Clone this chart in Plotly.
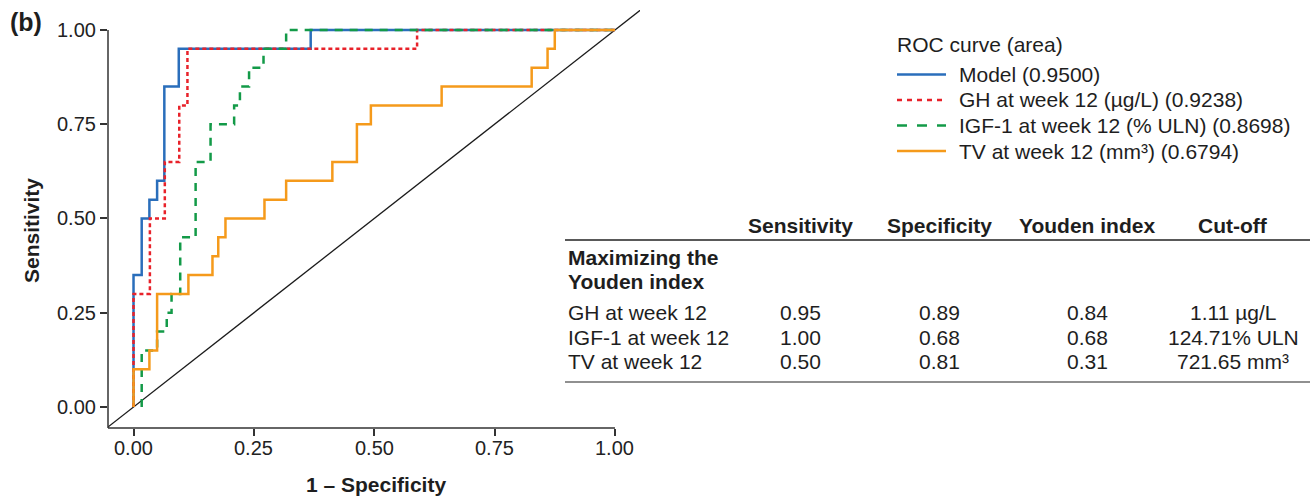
import plotly.graph_objects as go

# ---------------- data ----------------
fpr_model = [0, 0, 0.017, 0.017, 0.033, 0.033, 0.049, 0.049, 0.064, 0.064, 0.094, 0.094, 0.368, 0.368, 1.0]
tpr_model = [0, 0.35, 0.35, 0.50, 0.50, 0.55, 0.55, 0.60, 0.60, 0.85, 0.85, 0.95, 0.95, 1.0, 1.0]

fpr_gh = [0, 0, 0.034, 0.034, 0.065, 0.065, 0.095, 0.095, 0.112, 0.112, 0.589, 0.589, 1.0]
tpr_gh = [0, 0.30, 0.30, 0.50, 0.50, 0.65, 0.65, 0.80, 0.80, 0.95, 0.95, 1.0, 1.0]

fpr_igf = [0.017, 0.017, 0.049, 0.049, 0.069, 0.069, 0.079, 0.079, 0.097, 0.097, 0.129, 0.129,
           0.160, 0.160, 0.209, 0.209, 0.221, 0.221, 0.240, 0.240, 0.270, 0.270, 0.317, 0.317, 1.0]
tpr_igf = [0, 0.15, 0.15, 0.20, 0.20, 0.25, 0.25, 0.30, 0.30, 0.45, 0.45, 0.65,
           0.65, 0.75, 0.75, 0.80, 0.80, 0.85, 0.85, 0.90, 0.90, 0.95, 0.95, 1.0, 1.0]

fpr_tv = [0, 0, 0.033, 0.033, 0.049, 0.049, 0.114, 0.114, 0.164, 0.164, 0.176, 0.176, 0.191, 0.191,
          0.272, 0.272, 0.317, 0.317, 0.413, 0.413, 0.464, 0.464, 0.493, 0.493, 0.640, 0.640,
          0.827, 0.827, 0.860, 0.860, 0.875, 0.875, 1.0]
tpr_tv = [0, 0.10, 0.10, 0.15, 0.15, 0.30, 0.30, 0.35, 0.35, 0.40, 0.40, 0.45, 0.45, 0.50,
          0.50, 0.55, 0.55, 0.60, 0.60, 0.65, 0.65, 0.75, 0.75, 0.80, 0.80, 0.85,
          0.85, 0.90, 0.90, 0.95, 0.95, 1.0, 1.0]

series_names = ["Model (0.9500)", "GH at week 12 (µg/L) (0.9238)",
                "IGF-1 at week 12 (% ULN) (0.8698)", "TV at week 12 (mm³) (0.6794)"]
legend_title = "ROC curve (area)"

tick_vals = [0, 0.25, 0.5, 0.75, 1.0]
tick_text = ["0.00", "0.25", "0.50", "0.75", "1.00"]

table_header = ["Sensitivity", "Specificity", "Youden index", "Cut-off"]
table_group = ["Maximizing the", "Youden index"]
table_rows = ["GH at week 12", "IGF-1 at week 12", "TV at week 12"]
table_sens = ["0.95", "1.00", "0.50"]
table_spec = ["0.89", "0.68", "0.81"]
table_youden = ["0.84", "0.68", "0.31"]
table_cutoff = ["1.11 µg/L", "124.71% ULN", "721.65 mm³"]

# ---------------- styling ----------------
W, H = 1311, 500
FONT = "Liberation Sans, Arial, Helvetica, sans-serif"
TXT = "#1e1e1e"
colors = ["#2a6ebb", "#e8222a", "#139a48", "#f59a1b"]
dashes = ["solid", "4px,3px", "8px,7px", "solid"]
legend_dashes = ["solid", "5px,5px", "10px,10px", "solid"]
FS = 21

X0, X1 = 108, 640      # plot area, pixels
YB, YT = 428, 10
XR = [-0.053, 1.052]
YR = [-0.0557, 1.053]


def px(x):
    return x / W


def py(y):
    return 1 - y / H


def dx(v):  # data x -> paper
    return (X0 + (v - XR[0]) / (XR[1] - XR[0]) * (X1 - X0)) / W


def dy(v):  # data y -> paper
    return 1 - (YB - (v - YR[0]) / (YR[1] - YR[0]) * (YB - YT)) / H


fig = go.Figure()

# chance diagonal
fig.add_trace(go.Scatter(x=[-0.1, 1.2], y=[-0.1, 1.2], mode="lines",
                         line=dict(color="#1a1a1a", width=1.3),
                         showlegend=False, hoverinfo="skip"))

curves = [(fpr_model, tpr_model), (fpr_gh, tpr_gh), (fpr_igf, tpr_igf), (fpr_tv, tpr_tv)]
for (fx_, fy_), name, c, d in zip(curves, series_names, colors, dashes):
    fig.add_trace(go.Scatter(x=fx_, y=fy_, mode="lines", name=name,
                             line=dict(color=c, width=2.5, dash=d),
                             showlegend=False))

shapes = []
# axis lines (end at 1.00)
shapes.append(dict(type="line", xref="paper", yref="paper",
                   x0=px(X0), x1=dx(1.0), y0=py(YB), y1=py(YB),
                   line=dict(color="#333333", width=1.5)))
shapes.append(dict(type="line", xref="paper", yref="paper",
                   x0=px(X0), x1=px(X0), y0=py(YB), y1=dy(1.0),
                   line=dict(color="#333333", width=1.5)))

annotations = []
# tick labels
for v, t in zip(tick_vals, tick_text):
    annotations.append(dict(text=t, x=v, xref="x", y=py(448), yref="paper",
                            xanchor="center", yanchor="middle", showarrow=False,
                            font=dict(family=FONT, size=20, color="#222222")))
    annotations.append(dict(text=t, x=px(98), xref="paper", y=v, yref="y",
                            xanchor="right", yanchor="middle", showarrow=False,
                            font=dict(family=FONT, size=20, color="#222222")))
# panel label
annotations.append(dict(text="<b>(b)</b>", x=px(8), y=py(22), xref="paper", yref="paper",
                        xanchor="left", yanchor="middle", showarrow=False,
                        font=dict(family=FONT, size=25, color=TXT)))
# axis titles
annotations.append(dict(text="<b>Sensitivity</b>", x=px(32), y=py(231), xref="paper", yref="paper",
                        xanchor="center", yanchor="middle", showarrow=False, textangle=-90,
                        font=dict(family=FONT, size=FS, color=TXT)))
annotations.append(dict(text="<b>1 – Specificity</b>", x=px(376), y=py(484), xref="paper", yref="paper",
                        xanchor="center", yanchor="middle", showarrow=False,
                        font=dict(family=FONT, size=FS, color=TXT)))

# legend
annotations.append(dict(text=legend_title, x=px(895), y=py(45), xref="paper", yref="paper",
                        xanchor="left", yanchor="middle", showarrow=False,
                        font=dict(family=FONT, size=FS, color=TXT)))
leg_y = [74.5, 100, 125.5, 151]
for name, c, d, ly in zip(series_names, colors, legend_dashes, leg_y):
    shapes.append(dict(type="line", xref="paper", yref="paper",
                       x0=px(897), x1=px(946), y0=py(ly), y1=py(ly),
                       line=dict(color=c, width=2.5, dash=d)))
    annotations.append(dict(text=name, x=px(957), y=py(ly), xref="paper", yref="paper",
                            xanchor="left", yanchor="middle", showarrow=False,
                            font=dict(family=FONT, size=FS, color=TXT)))

# table
col_x = [800, 939, 1087, 1233]
for h, cx in zip(table_header, col_x):
    annotations.append(dict(text="<b>" + h + "</b>", x=px(cx), y=py(226), xref="paper", yref="paper",
                            xanchor="center", yanchor="middle", showarrow=False,
                            font=dict(family=FONT, size=FS, color=TXT)))
shapes.append(dict(type="line", xref="paper", yref="paper", x0=px(565), x1=px(1310),
                   y0=py(240), y1=py(240), line=dict(color="#222222", width=1.5)))
for t, ty in zip(table_group, [257, 281]):
    annotations.append(dict(text="<b>" + t + "</b>", x=px(566), y=py(ty), xref="paper", yref="paper",
                            xanchor="left", yanchor="middle", showarrow=False,
                            font=dict(family=FONT, size=FS, color=TXT)))
row_y = [312, 337, 361]
for i, ry in enumerate(row_y):
    annotations.append(dict(text=table_rows[i], x=px(566), y=py(ry), xref="paper", yref="paper",
                            xanchor="left", yanchor="middle", showarrow=False,
                            font=dict(family=FONT, size=FS, color=TXT)))
    for val, cx in zip([table_sens[i], table_spec[i], table_youden[i], table_cutoff[i]], col_x):
        annotations.append(dict(text=val, x=px(cx), y=py(ry), xref="paper", yref="paper",
                                xanchor="center", yanchor="middle", showarrow=False,
                                font=dict(family=FONT, size=FS, color=TXT)))
shapes.append(dict(type="line", xref="paper", yref="paper", x0=px(565), x1=px(1310),
                   y0=py(382), y1=py(382), line=dict(color="#222222", width=1.2)))

axis_common = dict(showgrid=False, zeroline=False, showline=False, ticks="outside",
                   ticklen=7, tickwidth=1.5, tickcolor="#333333",
                   tickvals=tick_vals, showticklabels=False, fixedrange=True)

fig.update_layout(
    width=W, height=H, autosize=False,
    margin=dict(l=0, r=0, t=0, b=0),
    paper_bgcolor="white", plot_bgcolor="white",
    xaxis=dict(range=XR, domain=[X0 / W, X1 / W], **axis_common),
    yaxis=dict(range=YR, domain=[1 - YB / H, 1 - YT / H], **axis_common),
    shapes=shapes, annotations=annotations, showlegend=False,
)

fig.write_html("out.html")
